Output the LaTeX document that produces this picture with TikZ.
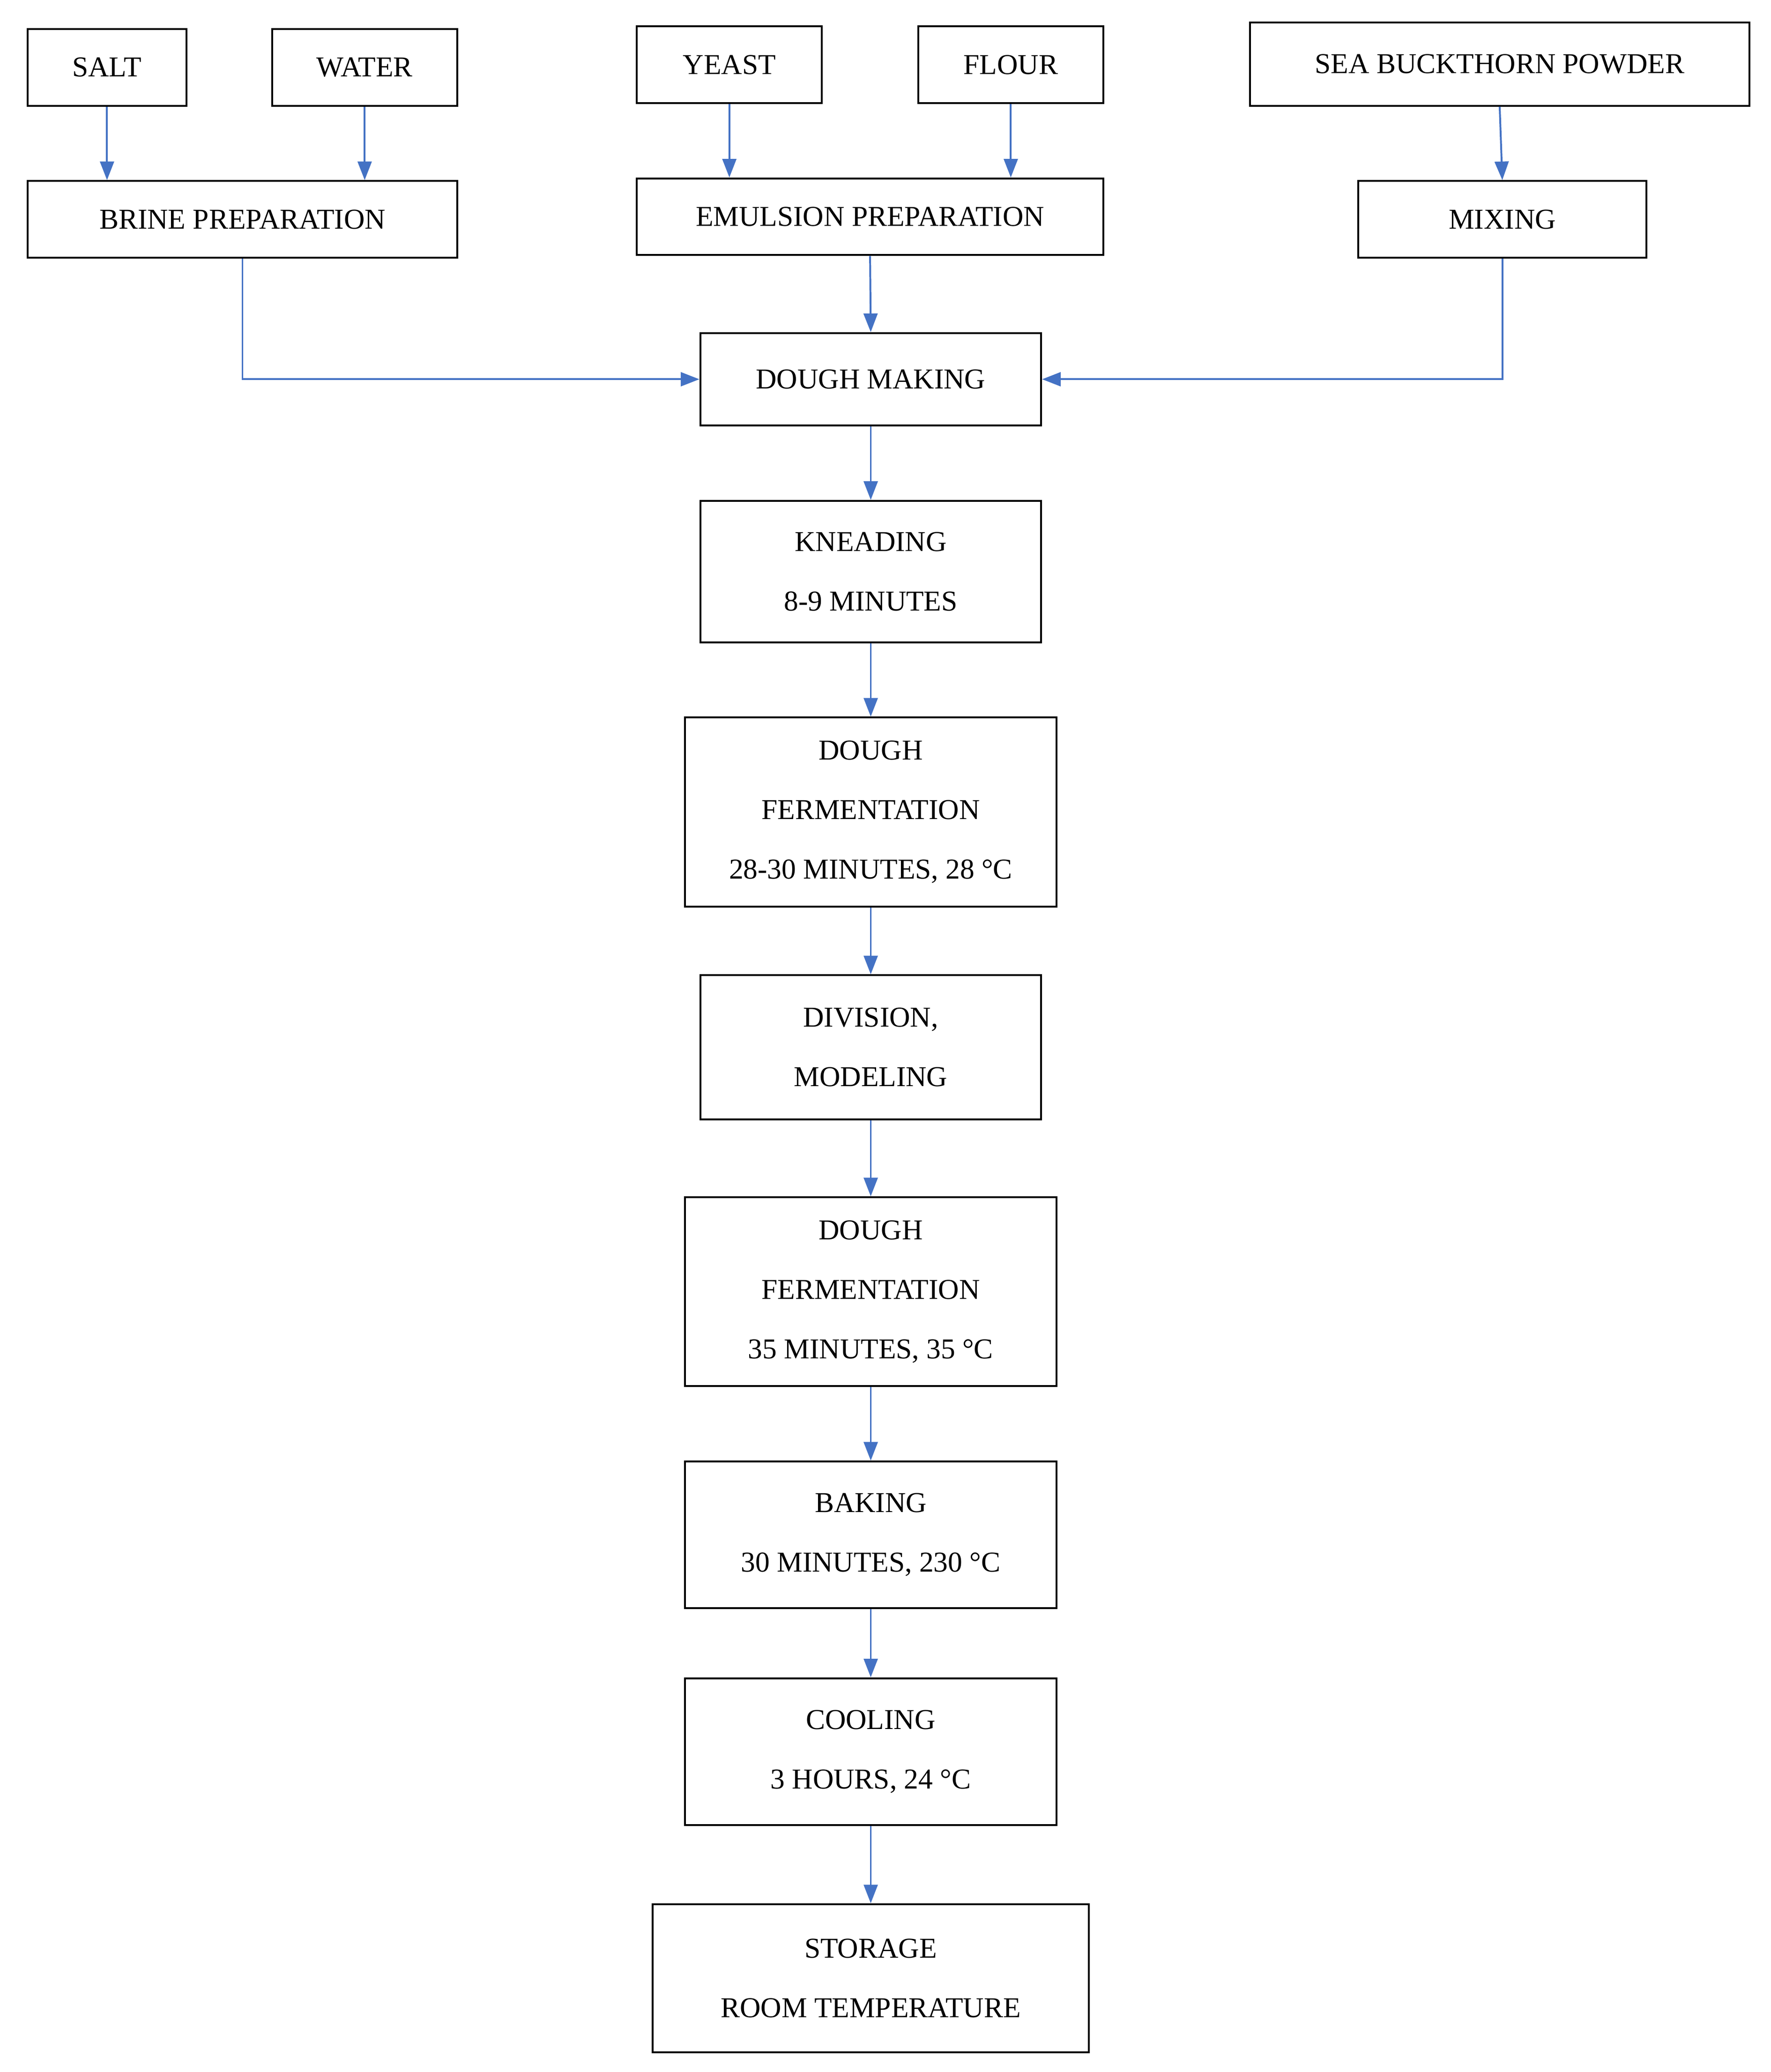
\documentclass[tikz,border=0pt]{standalone}
\usepackage{fontspec}
\setmainfont{Liberation Serif}
\usetikzlibrary{arrows.meta}
\definecolor{arr}{RGB}{68,114,196}
\begin{document}
\begin{tikzpicture}[
  box/.style={draw=black,line width=2pt,inner sep=0pt,align=center,
    font=\fontsize{31}{64}\selectfont},
  ar/.style={draw=arr,line width=2pt,-{Triangle[length=20pt,width=15pt]}}]
\useasboundingbox (0,0) rectangle (67,-78.4);
\node[box,minimum width=6cm,minimum height=2.9cm] (salt) at (4.05,-2.55) {SALT};
\node[box,minimum width=7cm,minimum height=2.9cm] (water) at (13.8,-2.55) {WATER};
\node[box,minimum width=7cm,minimum height=2.9cm] (yeast) at (27.6,-2.45) {YEAST};
\node[box,minimum width=7cm,minimum height=2.9cm] (flour) at (38.25,-2.45) {FLOUR};
\node[box,minimum width=18.9cm,minimum height=3.15cm] (sea) at (56.75,-2.425) {SEA BUCKTHORN POWDER};
\node[box,minimum width=16.25cm,minimum height=2.9cm] (brine) at (9.175,-8.3) {BRINE PREPARATION};
\node[box,minimum width=17.65cm,minimum height=2.9cm] (emul) at (32.925,-8.2) {EMULSION PREPARATION};
\node[box,minimum width=10.9cm,minimum height=2.9cm] (mix) at (56.85,-8.3) {MIXING};
\node[box,minimum width=12.9cm,minimum height=3.5cm] (dm) at (32.95,-14.35) {DOUGH MAKING};
\node[box,minimum width=12.9cm,minimum height=5.35cm] (kn) at (32.95,-21.625) {KNEADING\\8-9 MINUTES};
\node[box,minimum width=14.05cm,minimum height=7.15cm] (f1) at (32.95,-30.725) {DOUGH\\FERMENTATION\\28-30 MINUTES, 28 °C};
\node[box,minimum width=12.9cm,minimum height=5.45cm] (div) at (32.95,-39.625) {DIVISION,\\MODELING};
\node[box,minimum width=14.05cm,minimum height=7.15cm] (f2) at (32.95,-48.875) {DOUGH\\FERMENTATION\\35 MINUTES, 35 °C};
\node[box,minimum width=14.05cm,minimum height=5.55cm] (bake) at (32.95,-58.075) {BAKING\\30 MINUTES, 230 °C};
\node[box,minimum width=14.05cm,minimum height=5.55cm] (cool) at (32.95,-66.275) {COOLING\\3 HOURS, 24 °C};
\node[box,minimum width=16.5cm,minimum height=5.6cm] (stor) at (32.95,-74.85) {STORAGE\\ROOM TEMPERATURE};
\draw[ar] (salt.south) -- (salt.south |- brine.north);
\draw[ar] (water.south) -- (water.south |- brine.north);
\draw[ar] (yeast.south) -- (yeast.south |- emul.north);
\draw[ar] (flour.south) -- (flour.south |- emul.north);
\draw[ar] (sea.south) -- (mix.north);
\draw[ar] (emul.south) -- (dm.north);
\draw[ar] (brine.south) |- (dm.west);
\draw[ar] (mix.south) |- (dm.east);
\draw[ar] (dm) -- (kn);
\draw[ar] (kn) -- (f1);
\draw[ar] (f1) -- (div);
\draw[ar] (div) -- (f2);
\draw[ar] (f2) -- (bake);
\draw[ar] (bake) -- (cool);
\draw[ar] (cool) -- (stor);
\end{tikzpicture}
\end{document}
